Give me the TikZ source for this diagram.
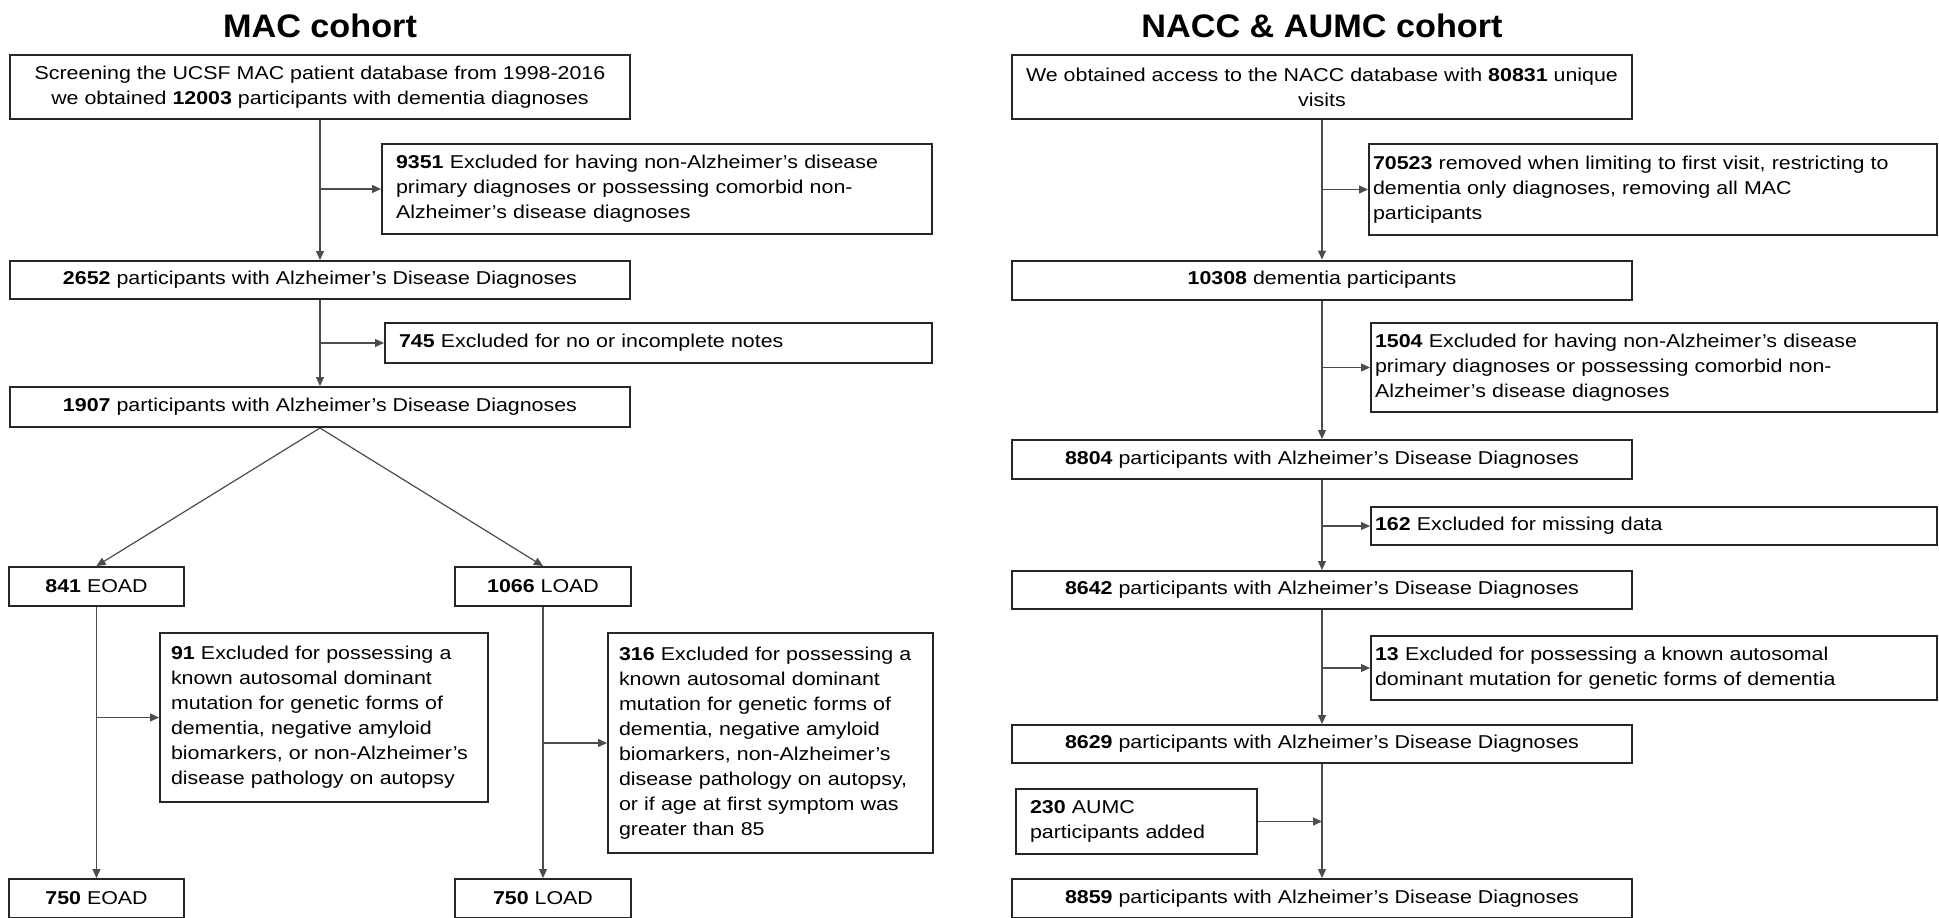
\documentclass[tikz,border=0pt]{standalone}
\usepackage{fontspec}
\setmainfont{Liberation Sans}[FakeStretch=1.15]
\newfontfamily\headfont{Liberation Sans}[FakeStretch=1.05]
\usepackage{tikz}
\usetikzlibrary{arrows.meta}

\begin{document}
\begin{tikzpicture}
	[x=0.5pt, y=-0.5pt, >={Triangle[length=4.5pt,width=4pt]},
	main/.style = {draw=black!85, line width=1pt, minimum width=310pt, align=center, inner sep=0pt, font=\fontsize{9.3pt}{12.5pt}\selectfont},
	side/.style = {draw=black!85, line width=1pt, align=left, inner ysep=0pt, font=\fontsize{9.3pt}{12.5pt}\selectfont},
	head/.style = {anchor=base, inner sep=0pt, font=\headfont\fontsize{16.3pt}{19pt}\selectfont\bfseries},
	link/.style = {draw=black!70, line width=0.6pt}]
	\fill[white] (0,0) rectangle (1939,917);
	\useasboundingbox (0,0) rectangle (1939,917);
	\node[head] (t1) at (320,37) {MAC cohort};
	\node[head] (t2) at (1322,37) {NACC \& AUMC cohort};
	\node[main, minimum height=32pt] (m1) at (320,87) {Screening the UCSF MAC patient database from 1998-2016\\we obtained \textbf{12003} participants with dementia diagnoses};
	\node[side, text width=261pt, inner xsep=7pt, minimum height=45pt] (mx1) at (657,189) {\textbf{9351} Excluded for having non-Alzheimer’s disease\\primary diagnoses or possessing comorbid non-\\Alzheimer’s disease diagnoses};
	\node[main, minimum height=19pt] (m2) at (320,280) {\textbf{2652} participants with Alzheimer’s Disease Diagnoses};
	\node[side, text width=259.5pt, inner xsep=7pt, minimum height=20pt] (mx2) at (658.5,343) {\textbf{745} Excluded for no or incomplete notes};
	\node[main, minimum height=20pt] (m3) at (320,407) {\textbf{1907} participants with Alzheimer’s Disease Diagnoses};
	\node[main, minimum width=87.5pt, minimum height=19.5pt] (eo1) at (96.5,586.5) {\textbf{841} EOAD};
	\node[main, minimum width=88pt, minimum height=19.5pt] (lo1) at (543,586.5) {\textbf{1066} LOAD};
	\node[side, text width=153pt, inner xsep=5.5pt, minimum height=84.5pt] (ex) at (324,717.5) {\textbf{91} Excluded for possessing a\\known autosomal dominant\\mutation for genetic forms of\\dementia, negative amyloid\\biomarkers, or non-Alzheimer’s\\disease pathology on autopsy};
	\node[side, text width=151.5pt, inner xsep=5.5pt, minimum height=110pt] (lx) at (770.5,743) {\textbf{316} Excluded for possessing a\\known autosomal dominant\\mutation for genetic forms of\\dementia, negative amyloid\\biomarkers, non-Alzheimer’s\\disease pathology on autopsy,\\or if age at first symptom was\\greater than 85};
	\node[main, minimum width=87.5pt, minimum height=19.5pt] (eo2) at (96.5,898.5) {\textbf{750} EOAD};
	\node[main, minimum width=88pt, minimum height=19.5pt] (lo2) at (543,898.5) {\textbf{750} LOAD};
	\node[main, minimum height=32pt] (n1) at (1322,87) {We obtained access to the NACC database with \textbf{80831} unique\\visits};
	\node[side, text width=280pt, inner xsep=2pt, minimum height=45.5pt] (nx1) at (1653,189.5) {\textbf{70523} removed when limiting to first visit, restricting to\\dementia only diagnoses, removing all MAC\\participants};
	\node[main, minimum height=19.5pt] (n2) at (1322,280) {\textbf{10308} dementia participants};
	\node[side, text width=279pt, inner xsep=2pt, minimum height=44.5pt] (nx2) at (1654,367.5) {\textbf{1504} Excluded for having non-Alzheimer’s disease\\primary diagnoses or possessing comorbid non-\\Alzheimer’s disease diagnoses};
	\node[main, minimum height=19.5pt] (n3) at (1322,459.5) {\textbf{8804} participants with Alzheimer’s Disease Diagnoses};
	\node[side, text width=279pt, inner xsep=2pt, minimum height=19pt] (nx3) at (1654,526) {\textbf{162} Excluded for missing data};
	\node[main, minimum height=19pt] (n4) at (1322,590) {\textbf{8642} participants with Alzheimer’s Disease Diagnoses};
	\node[side, text width=279pt, inner xsep=2pt, minimum height=32pt] (nx4) at (1654,668) {\textbf{13} Excluded for possessing a known autosomal\\dominant mutation for genetic forms of dementia};
	\node[main, minimum height=19pt] (n5) at (1322,744) {\textbf{8629} participants with Alzheimer’s Disease Diagnoses};
	\node[side, text width=106.5pt, inner xsep=7pt, minimum height=32.5pt] (ad) at (1136.5,821.5) {\textbf{230} AUMC\\participants added};
	\node[main, minimum height=19.5pt] (n6) at (1322,898.5) {\textbf{8859} participants with Alzheimer’s Disease Diagnoses};
	\coordinate (j1) at (m1.south |- mx1.west);
	\coordinate (j2) at (m2.south |- mx2.west);
	\coordinate (j3) at (eo1.south |- ex.west);
	\coordinate (j4) at (lo1.south |- lx.west);
	\coordinate (k1) at (n1.south |- nx1.west);
	\coordinate (k2) at (n2.south |- nx2.west);
	\coordinate (k3) at (n3.south |- nx3.west);
	\coordinate (k4) at (n4.south |- nx4.west);
	\coordinate (k5) at (n5.south |- ad.east);
	\draw[link, ->] (m1) -- (m2);
	\draw[link, ->] (j1) -- (mx1);
	\draw[link, ->] (m2) -- (m3);
	\draw[link, ->] (j2) -- (mx2);
	\draw[link, ->] (m3.south) -- (eo1.north);
	\draw[link, ->] (m3.south) -- (lo1.north);
	\draw[link, ->] (eo1) -- (eo2);
	\draw[link, ->] (j3) -- (ex);
	\draw[link, ->] (lo1) -- (lo2);
	\draw[link, ->] (j4) -- (lx);
	\draw[link, ->] (n1) -- (n2);
	\draw[link, ->] (k1) -- (nx1);
	\draw[link, ->] (n2) -- (n3);
	\draw[link, ->] (k2) -- (nx2);
	\draw[link, ->] (n3) -- (n4);
	\draw[link, ->] (k3) -- (nx3);
	\draw[link, ->] (n4) -- (n5);
	\draw[link, ->] (k4) -- (nx4);
	\draw[link, ->] (n5) -- (n6);
	\draw[link, ->] (ad) -- (k5);
\end{tikzpicture}
\end{document}
